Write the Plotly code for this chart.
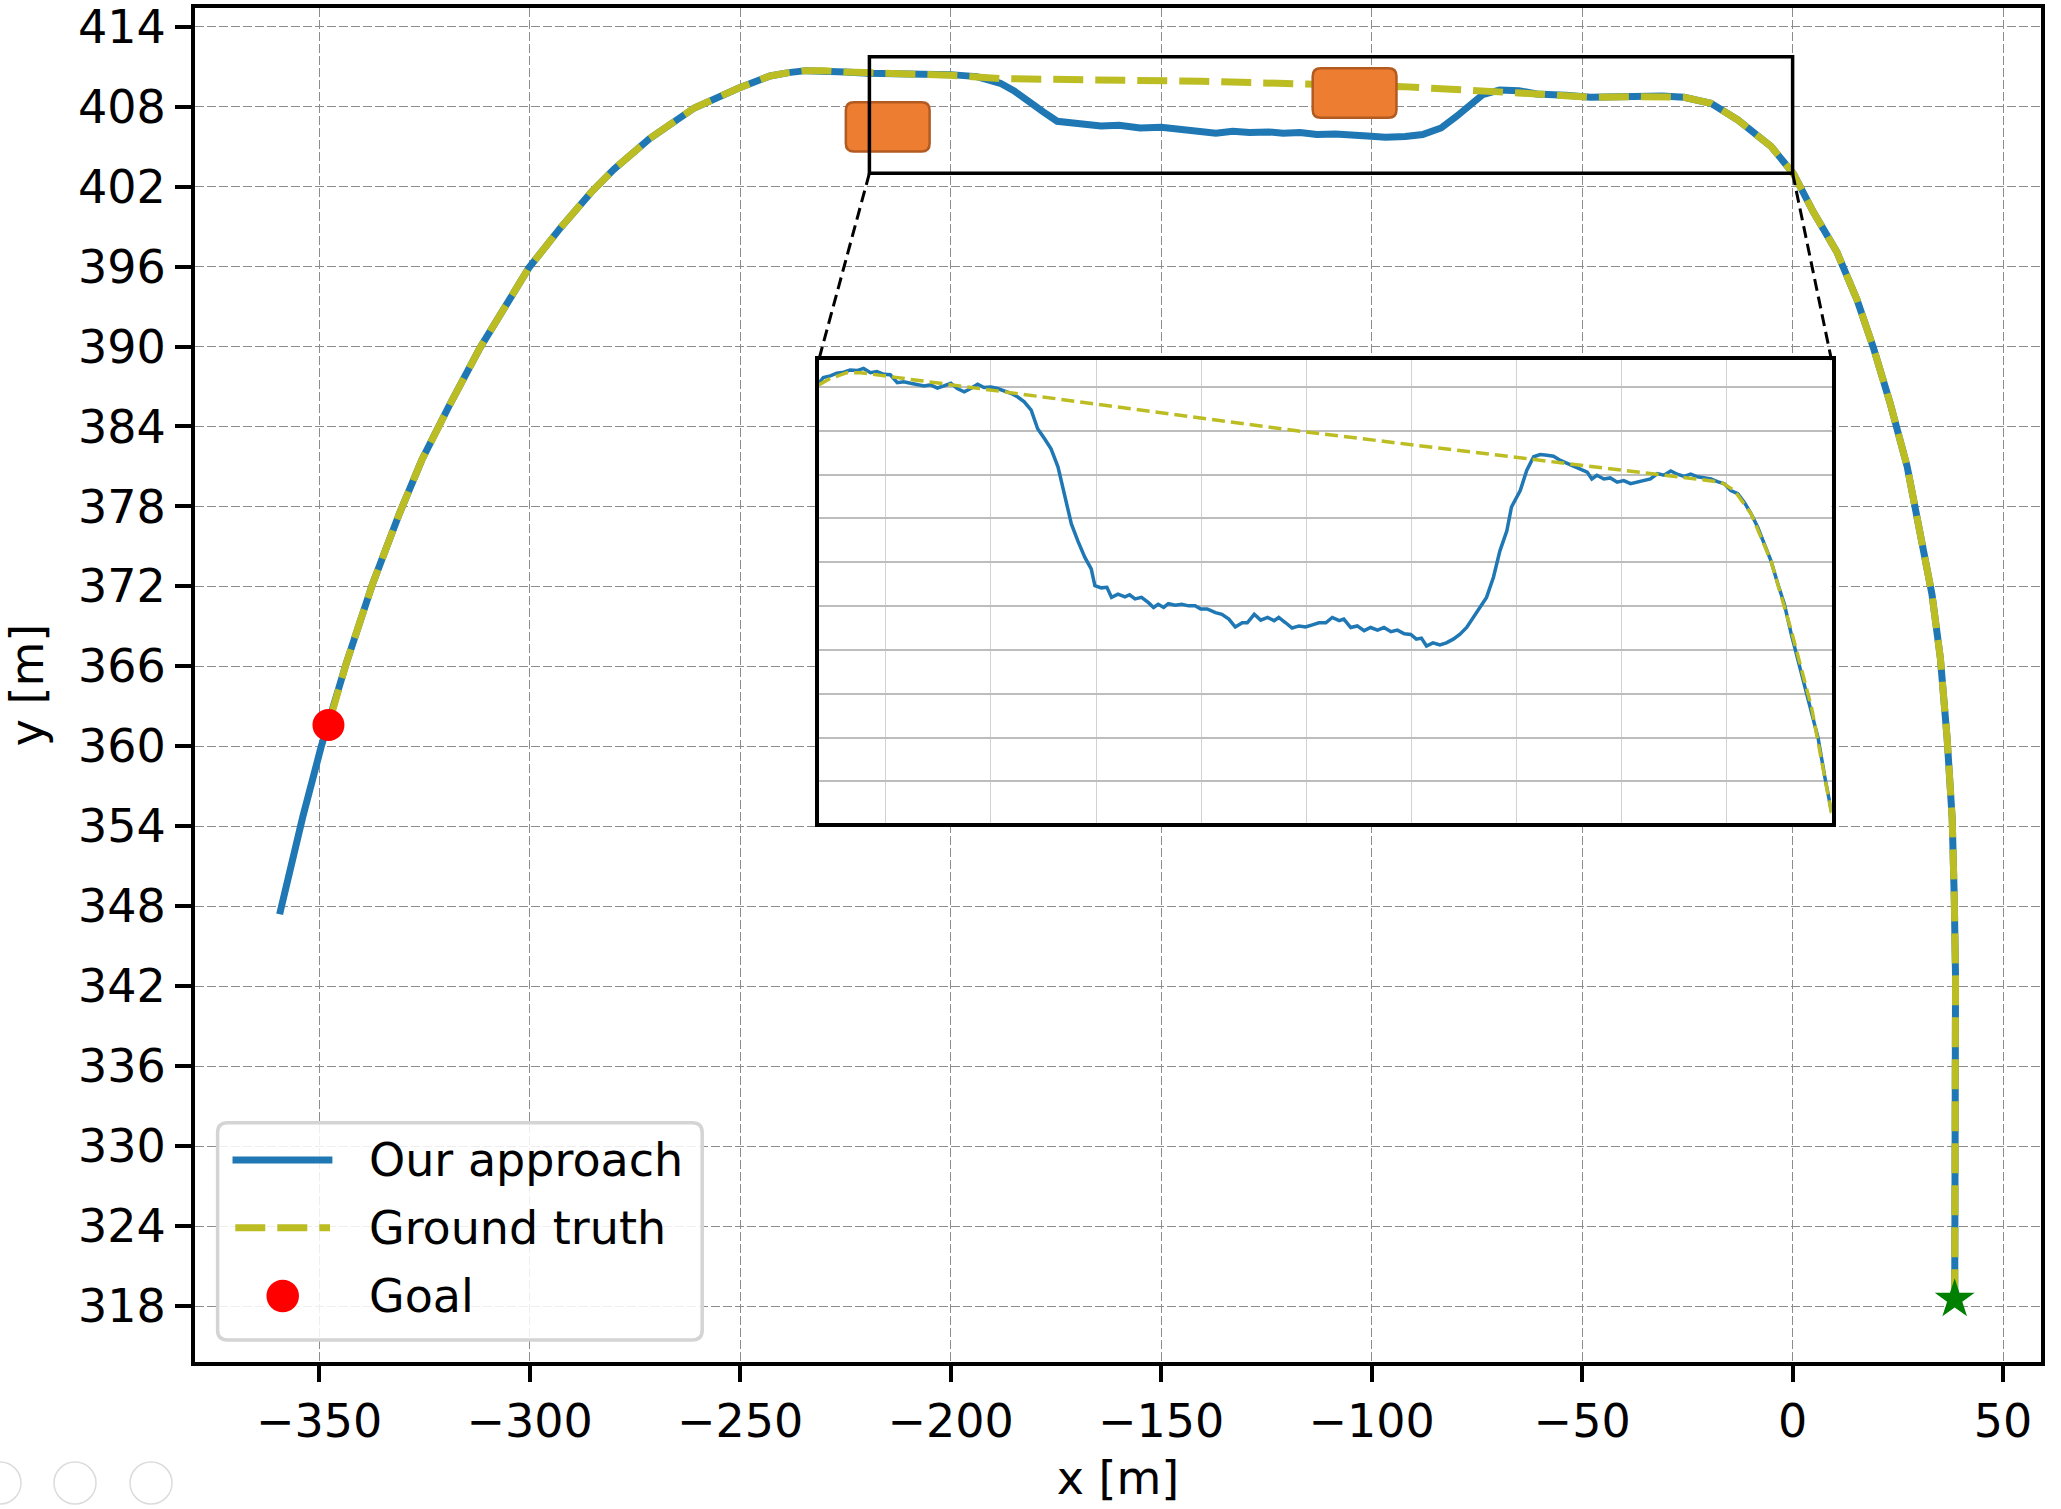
import plotly.graph_objects as go

# ---------------- data ----------------
approach_x = [
    38.5, 38.6, 38.7, 38.7, 38.4, 37.9, 36.7, 35.1, 33.1, 30.3,
    27.2, 23.2, 19.2, 15.3, 10.5, 4.9, 0.2, -5.1, -13.0, -19.4,
    -25.8, -31.0, -36.9, -42.0, -48.0, -54.0, -60.8, -65.0, -69.6, -73.6,
    -76.5, -79.9, -83.5, -87.9, -92.0, -96.7, -101.0, -105.0, -108.6, -113.0,
    -117.0, -121.0, -124.5, -129.0, -133.0, -137.0, -140.4, -145.0, -150.0, -155.0,
    -160.0, -164.3, -168.0, -171.0, -174.7, -178.0, -181.8, -185.0, -188.2, -193.8,
    -200.0, -207.0, -214.5, -219.6, -225.0, -230.2, -234.4, -238.5, -242.9, -250.3,
    -255.5, -260.9, -271.5, -280.0, -285.3, -292.7, -300.2, -306.5, -311.8, -319.2,
    -325.6, -330.9, -337.3, -343.6, -347.8, -349.5, -353.9, -359.4,
]
approach_y = [
    318.5, 324.7, 333.7, 342.7, 348.6, 354.6, 360.6, 366.6, 371.4, 376.2,
    381.0, 385.7, 389.9, 393.5, 397.1, 400.1, 402.97, 405.0, 407.0, 408.25,
    408.7, 408.8, 408.75, 408.8, 408.7, 408.85, 408.95, 409.2, 409.25, 408.9,
    408.1, 407.25, 406.4, 405.9, 405.75, 405.7, 405.8, 405.9, 405.95, 405.9,
    406.05, 406.0, 406.1, 406.05, 406.15, 406.0, 406.1, 406.3, 406.45, 406.4,
    406.6, 406.55, 406.65, 406.7, 406.9, 407.6, 408.5, 409.2, 409.75, 410.25,
    410.4, 410.4, 410.45, 410.5, 410.6, 410.7, 410.7, 410.55, 410.3, 409.4,
    408.7, 407.9, 405.6, 403.3, 401.6, 398.9, 395.9, 392.6, 389.9, 385.5,
    381.5, 377.5, 372.2, 366.2, 361.6, 360.0, 354.7, 347.4,
]

gt_x = [
    38.5, 38.6, 38.7, 38.7, 38.4, 37.9, 36.7, 35.1, 33.1, 30.3,
    27.2, 23.2, 19.2, 15.3, 10.5, 4.9, 0.2, -5.1, -13.0, -19.4,
    -25.8, -36.9, -48.0, -60.8, -70.4, -92.7, -140.4, -188.2, -200.0, -207.0,
    -214.5, -219.6, -225.0, -230.2, -234.4, -238.5, -242.9, -250.3, -255.5, -260.9,
    -271.5, -280.0, -285.3, -292.7, -300.2, -306.5, -311.8, -319.2, -325.6, -330.9,
    -337.3, -343.6, -347.8,
]
gt_y = [
    318.5, 324.7, 333.7, 342.7, 348.6, 354.6, 360.6, 366.6, 371.4, 376.2,
    381.0, 385.7, 389.9, 393.5, 397.1, 400.1, 402.97, 405.0, 407.0, 408.25,
    408.7, 408.75, 408.7, 408.95, 409.1, 409.5, 409.9, 410.1, 410.35, 410.4,
    410.45, 410.5, 410.6, 410.7, 410.7, 410.55, 410.3, 409.4, 408.7, 407.9,
    405.6, 403.3, 401.6, 398.9, 395.9, 392.6, 389.9, 385.5, 381.5, 377.5,
    372.2, 366.2, 361.6,
]

goal_x = [-347.8]
goal_y = [361.6]
start_x = [38.5]
start_y = [318.5]

# obstacles (orange boxes)
obstacle_x0 = [-224.9, -114.0]
obstacle_x1 = [-205.0, -94.1]
obstacle_y0 = [404.63, 407.16]
obstacle_y1 = [408.33, 410.87]

# zoomed region
zoom_x = [-219.3, 0.0]
zoom_y = [403.0, 411.75]

# inset curves
inset_approach_x = [
    -219.3, -218.3, -216.8, -215.4, -213.9, -212.5, -211.0, -209.6, -208.1, -206.7,
    -205.2, -203.8, -202.3, -200.9, -199.4, -198.0, -196.5, -195.1, -193.6, -192.2,
    -190.7, -189.3, -187.8, -186.4, -184.9, -183.5, -182.0, -180.6, -179.1, -177.7,
    -176.2, -174.8, -173.3, -171.9, -170.4, -169.0, -167.5, -166.1, -164.6, -163.2,
    -161.7, -160.3, -159.5, -158.1, -156.9, -155.9, -154.5, -153.0, -152.0, -150.8,
    -149.4, -147.9, -146.8, -145.8, -144.6, -143.6, -142.1, -140.7, -139.2, -137.8,
    -136.6, -135.2, -133.4, -132.0, -130.5, -129.1, -127.6, -126.5, -125.0, -123.6,
    -122.1, -120.7, -119.7, -118.2, -116.8, -115.3, -113.9, -112.4, -111.0, -109.5,
    -108.1, -106.6, -105.6, -104.1, -102.7, -101.2, -99.8, -98.3, -96.9, -95.4,
    -94.0, -92.5, -91.1, -89.9, -88.8, -87.7, -86.3, -84.8, -83.4, -81.9,
    -80.5, -79.0, -77.6, -76.1, -74.7, -73.2, -71.8, -70.3, -69.3, -67.4,
    -66.0, -64.5, -63.1, -61.6, -60.2, -58.7, -57.3, -55.8, -54.4, -52.9,
    -51.9, -50.8, -49.3, -47.9, -46.4, -45.0, -43.5, -42.1, -40.6, -39.2,
    -37.7, -36.3, -34.8, -33.4, -31.9, -30.5, -29.0, -27.6, -26.1, -24.7,
    -23.2, -21.8, -20.3, -18.9, -17.4, -16.0, -14.5, -13.1, -11.6, -10.2,
    -8.7, -7.2, -5.8, -4.3, -2.9, -1.4, 0.0,
]
inset_approach_y = [
    411.31, 411.42, 411.45, 411.50, 411.52, 411.56, 411.55, 411.59, 411.51, 411.53,
    411.48, 411.47, 411.32, 411.34, 411.31, 411.29, 411.26, 411.28, 411.22, 411.26,
    411.31, 411.21, 411.15, 411.21, 411.29, 411.23, 411.24, 411.21, 411.17, 411.12,
    411.05, 410.96, 410.80, 410.45, 410.26, 410.07, 409.73, 409.22, 408.65, 408.33,
    408.02, 407.80, 407.48, 407.44, 407.45, 407.26, 407.32, 407.27, 407.31, 407.23,
    407.26, 407.16, 407.07, 407.13, 407.07, 407.14, 407.11, 407.13, 407.10, 407.10,
    407.04, 407.04, 406.97, 406.94, 406.85, 406.70, 406.78, 406.78, 406.94, 406.83,
    406.88, 406.82, 406.88, 406.78, 406.68, 406.72, 406.70, 406.74, 406.78, 406.78,
    406.88, 406.82, 406.85, 406.69, 406.72, 406.63, 406.69, 406.64, 406.69, 406.61,
    406.64, 406.57, 406.56, 406.47, 406.49, 406.34, 406.40, 406.36, 406.40, 406.47,
    406.56, 406.69, 406.88, 407.07, 407.26, 407.64, 408.14, 408.52, 408.97, 409.28,
    409.66, 409.92, 409.96, 409.95, 409.93, 409.85, 409.80, 409.73, 409.69, 409.63,
    409.50, 409.57, 409.50, 409.52, 409.44, 409.47, 409.41, 409.44, 409.47, 409.50,
    409.60, 409.57, 409.65, 409.59, 409.55, 409.59, 409.54, 409.52, 409.50, 409.45,
    409.41, 409.28, 409.22, 409.06, 408.84, 408.59, 408.27, 407.95, 407.51, 407.13,
    406.56, 406.06, 405.61, 405.11, 404.60, 403.84, 403.21,
]
inset_gt_x = [-219.3, -216.8, -213.2, -210.3, -113.9, -23.9, -21.0, -17.4, -13.1, -8.7, -4.3, 0.0]
inset_gt_y = [411.28, 411.40, 411.51, 411.51, 410.39, 409.44, 409.28, 408.84, 407.95, 406.63, 405.17, 403.18]

x_ticks = [-350, -300, -250, -200, -150, -100, -50, 0, 50]
y_ticks = [318, 324, 330, 336, 342, 348, 354, 360, 366, 372, 378, 384, 390, 396, 402, 408, 414]

legend_labels = ["Our approach", "Ground truth", "Goal"]

# ---------------- layout helpers ----------------
W, H = 2061, 1509
# plot box in window pixels
PL, PR, PT, PB = 195, 2041, 8, 1362
X_RANGE = [-379.5, 59.0]
Y_RANGE = [313.8, 415.4]

BLUE = "#1f77b4"
OLIVE = "#bcbd22"
FONT = "DejaVu Sans"


def pxx(xp):
    return (xp - PL) / (PR - PL)


def pxy(yp):
    return (PB - yp) / (PB - PT)


def rounded_path(x0, x1, y0, y1, rx, ry):
    return (f"M {x0 + rx},{y0} L {x1 - rx},{y0} Q {x1},{y0} {x1},{y0 + ry} "
            f"L {x1},{y1 - ry} Q {x1},{y1} {x1 - rx},{y1} L {x0 + rx},{y1} "
            f"Q {x0},{y1} {x0},{y1 - ry} L {x0},{y0 + ry} Q {x0},{y0} {x0 + rx},{y0} Z")


inset_dom_x = [pxx(818.75), pxx(1831.5)]
inset_dom_y = [pxy(822.6), pxy(360.0)]

fig = go.Figure()

# main curves
fig.add_trace(go.Scatter(x=approach_x, y=approach_y, mode="lines", name=legend_labels[0],
                         line=dict(color=BLUE, width=7), showlegend=False))
fig.add_trace(go.Scatter(x=gt_x, y=gt_y, mode="lines", name=legend_labels[1],
                         line=dict(color=OLIVE, width=7, dash="30px,12px"), showlegend=False))
fig.add_trace(go.Scatter(x=goal_x, y=goal_y, mode="markers", name=legend_labels[2],
                         marker=dict(color="red", size=32, line=dict(width=0)), showlegend=False))
fig.add_trace(go.Scatter(x=start_x, y=start_y, mode="markers", name="Start",
                         marker=dict(color="green", size=30, symbol="star", line=dict(width=0)),
                         showlegend=False))

# inset curves
fig.add_trace(go.Scatter(x=inset_approach_x, y=inset_approach_y, mode="lines", xaxis="x2", yaxis="y2",
                         line=dict(color=BLUE, width=3.5), showlegend=False))
fig.add_trace(go.Scatter(x=inset_gt_x, y=inset_gt_y, mode="lines", xaxis="x2", yaxis="y2",
                         line=dict(color=OLIVE, width=3.5, dash="13px,6px"), showlegend=False))

shapes = []
# inset background
shapes.append(dict(type="rect", xref="x2 domain", yref="y2 domain", x0=0, x1=1, y0=0, y1=1,
                   fillcolor="white", line=dict(width=0), layer="below"))
# obstacles
rx, ry = 8 / 4.21, 8 / 13.34
for i in range(len(obstacle_x0)):
    shapes.append(dict(type="path", xref="x", yref="y",
                       path=rounded_path(obstacle_x0[i], obstacle_x1[i], obstacle_y0[i], obstacle_y1[i], rx, ry),
                       fillcolor="#ed7d31", line=dict(color="#b35a21", width=2.5), layer="above"))
# zoom box
shapes.append(dict(type="rect", xref="x", yref="y", x0=zoom_x[0], x1=zoom_x[1], y0=zoom_y[0], y1=zoom_y[1],
                   line=dict(color="black", width=3.5), fillcolor="rgba(0,0,0,0)", layer="above"))
# connector lines zoom box -> inset
ix0 = X_RANGE[0] + inset_dom_x[0] * (X_RANGE[1] - X_RANGE[0])
ix1 = X_RANGE[0] + inset_dom_x[1] * (X_RANGE[1] - X_RANGE[0])
iy1 = Y_RANGE[0] + inset_dom_y[1] * (Y_RANGE[1] - Y_RANGE[0])
for zx, ixx in ((zoom_x[0], ix0), (zoom_x[1], ix1)):
    shapes.append(dict(type="line", xref="x", yref="y", x0=zx, y0=zoom_y[0], x1=ixx, y1=iy1,
                       line=dict(color="black", width=3, dash="12px,6px"), layer="above"))

# legend frame (rounded)
lx0, lx1, ly0, ly1 = pxx(217.6), pxx(702.2), pxy(1340.0), pxy(1122.7)
shapes.append(dict(type="path", xref="paper", yref="paper",
                   path=rounded_path(lx0, lx1, ly0, ly1, 10 / (PR - PL), 10 / (PB - PT)),
                   fillcolor="rgba(255,255,255,0.85)", line=dict(color="#d4d4d4", width=3.5), layer="above"))
# legend samples
shapes.append(dict(type="line", xref="paper", yref="paper", x0=pxx(232.5), x1=pxx(332.4),
                   y0=pxy(1160), y1=pxy(1160), line=dict(color=BLUE, width=7), layer="above"))
shapes.append(dict(type="line", xref="paper", yref="paper", x0=pxx(235.3), x1=pxx(330.0),
                   y0=pxy(1227.7), y1=pxy(1227.7), line=dict(color=OLIVE, width=7, dash="30px,12px"),
                   layer="above"))
shapes.append(dict(type="circle", xref="paper", yref="paper", xsizemode="pixel", ysizemode="pixel",
                   xanchor=pxx(282.7), yanchor=pxy(1296), x0=-16.25, x1=16.25, y0=-16.25, y1=16.25,
                   fillcolor="red", line=dict(width=0), layer="above"))
# faint viewer buttons at the bottom-left
for cx in (0, 75, 151):
    shapes.append(dict(type="circle", xref="paper", yref="paper", xsizemode="pixel", ysizemode="pixel",
                       xanchor=pxx(cx), yanchor=pxy(1483), x0=-21, x1=21, y0=-21, y1=21,
                       line=dict(color="#dcdcdc", width=1.5), fillcolor="rgba(0,0,0,0)", layer="above"))

annotations = []
for lab, yp in zip(legend_labels, (1160, 1227.7, 1296)):
    annotations.append(dict(text=lab, xref="paper", yref="paper", x=pxx(367.3), y=pxy(yp),
                            xanchor="left", yanchor="middle", showarrow=False,
                            font=dict(family=FONT, size=46, color="black")))

axis_common = dict(showline=True, linecolor="black", linewidth=4, mirror=True,
                   ticks="outside", ticklen=16, tickwidth=4, tickcolor="black",
                   tickfont=dict(family=FONT, size=46, color="black"),
                   ticklabeloverflow="allow",
                   showgrid=True, gridcolor="#8c8c8c", gridwidth=1.3, griddash="9px,3px",
                   zeroline=False, automargin=False)

fig.update_layout(
    width=W, height=H,
    margin=dict(l=PL, r=W - PR, t=PT, b=H - PB, pad=0),
    template="none",
    paper_bgcolor="white", plot_bgcolor="white",
    font=dict(family=FONT, size=46, color="black"),
    showlegend=False,
    hovermode=False,
    xaxis=dict(range=X_RANGE, tickmode="array", tickvals=x_ticks,
               title=dict(text="x [m]", font=dict(family=FONT, size=46), standoff=16),
               **axis_common),
    yaxis=dict(range=Y_RANGE, tickmode="array", tickvals=y_ticks,
               title=dict(text="y [m]", font=dict(family=FONT, size=46), standoff=21),
               **axis_common),
    xaxis2=dict(domain=inset_dom_x, anchor="y2", range=zoom_x, tickmode="linear",
                tick0=-204.8, dtick=22.77, showticklabels=False, ticks="",
                showgrid=True, gridcolor="#d2d2d2", gridwidth=1.2,
                showline=True, mirror=True, linecolor="black", linewidth=4, zeroline=False),
    yaxis2=dict(domain=inset_dom_y, anchor="x2", range=zoom_y, tickmode="linear",
                tick0=411.24, dtick=0.829, showticklabels=False, ticks="",
                showgrid=True, gridcolor="#bdbdbd", gridwidth=1.5,
                showline=True, mirror=True, linecolor="black", linewidth=4, zeroline=False),
    shapes=shapes,
    annotations=annotations,
)

# remove the default page margin so the figure sits at the window's top-left corner
fig.write_html("out.html",
               config={"displayModeBar": False, "displaylogo": False},
               post_script="document.body.style.margin='0';document.body.style.padding='0';")
